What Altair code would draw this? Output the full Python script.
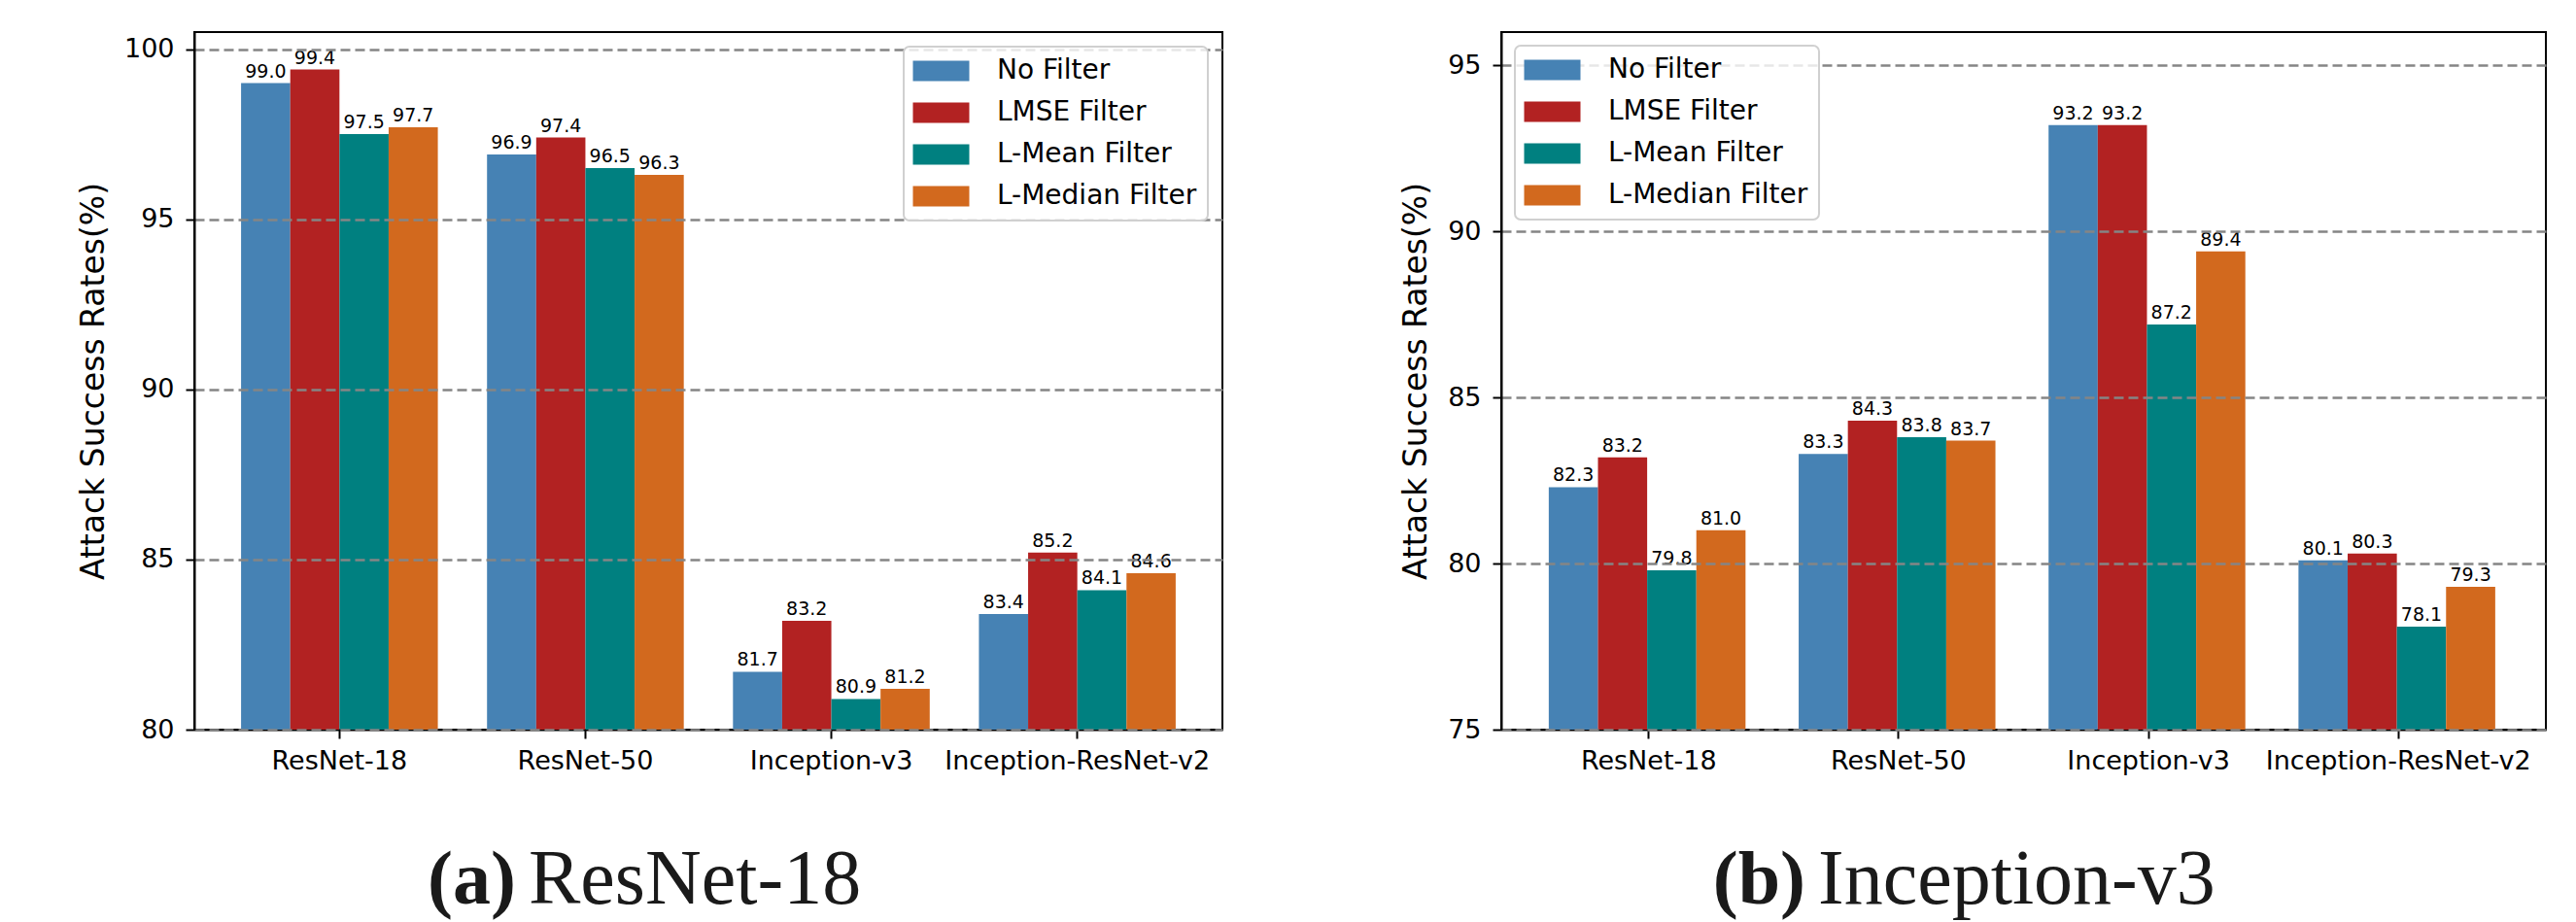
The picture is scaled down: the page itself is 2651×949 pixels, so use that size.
import altair as alt
import pandas as pd

models = ["ResNet-18", "ResNet-50", "Inception-v3", "Inception-ResNet-v2"]
filters = ["No Filter", "LMSE Filter", "L-Mean Filter", "L-Median Filter"]
colors = ["#4682B4", "#B22222", "#008080", "#D2691E"]

# panel (a) ResNet-18
a_no = [99.0, 96.9, 81.7, 83.4]
a_lmse = [99.4, 97.4, 83.2, 85.2]
a_mean = [97.5, 96.5, 80.9, 84.1]
a_median = [97.7, 96.3, 81.2, 84.6]
a_ticks = [80, 85, 90, 95, 100]

# panel (b) Inception-v3
b_no = [82.3, 83.3, 93.2, 80.1]
b_lmse = [83.2, 84.3, 93.2, 80.3]
b_mean = [79.8, 83.8, 87.2, 78.1]
b_median = [81.0, 83.7, 89.4, 79.3]
b_ticks = [75, 80, 85, 90, 95]

y_title = "Attack Success Rates(%)"
FONT = "DejaVu Sans"
SERIF = "Liberation Serif"
H = 718
CAP_Y = 897


def panel(series, ymin, ymax, ticks, width, legend_orient, legend_offset, extent,
          cap_bold, cap_text, cap_split_x):
    rows = []
    for f, vals in zip(filters, series):
        for m, v in zip(models, vals):
            rows.append({"model": m, "filter": f, "value": v})
    df = pd.DataFrame(rows)

    x = alt.X("model:N", sort=models, title=None,
              scale=alt.Scale(paddingInner=0.2, paddingOuter=0.19),
              axis=alt.Axis(labelAngle=0, labelFontSize=27, labelFont=FONT, labelColor="black",
                            tickColor="black", tickSize=9, tickWidth=2, labelPadding=10,
                            domainColor="black", domainWidth=2, grid=False, labelLimit=400))
    xo = alt.XOffset("filter:N", sort=filters, scale=alt.Scale(paddingInner=0, paddingOuter=0))
    y = alt.Y("value:Q",
              scale=alt.Scale(domain=[ymin, ymax], nice=False, zero=False),
              axis=alt.Axis(values=ticks, title=y_title, format="d",
                            labelFontSize=27, labelFont=FONT, labelColor="black", labelPadding=12,
                            tickColor="black", tickSize=9, tickWidth=2,
                            domainColor="black", domainWidth=2,
                            grid=True, gridDash=[10, 5], gridColor="#858585", gridWidth=2.5,
                            zindex=1, minExtent=extent, maxExtent=extent, titlePadding=4,
                            titleFontSize=33, titleFont=FONT, titleFontWeight="normal",
                            titleColor="black"))
    color = alt.Color("filter:N", sort=filters,
                      scale=alt.Scale(domain=filters, range=colors),
                      legend=alt.Legend(title=None, orient=legend_orient, offset=legend_offset,
                                        labelFontSize=28, labelFont=FONT, labelColor="black",
                                        symbolType="M-2.762,-1H2.762V1H-2.762Z", symbolSize=441,
                                        symbolOffset=13.5, labelOffset=43.5, rowPadding=15,
                                        symbolStrokeWidth=0, symbolOpacity=1, zindex=2,
                                        labelLimit=400, padding=11, strokeColor="#d0d0d0",
                                        cornerRadius=6, fillColor="rgba(255,255,255,0.8)"))

    bars = alt.Chart(df).mark_bar(stroke=None).encode(
        x=x, xOffset=xo, y=y, y2=alt.datum(ymin), color=color)
    labels = alt.Chart(df).mark_text(baseline="alphabetic", dy=-6, fontSize=19, font=FONT,
                                     color="black").encode(
        x=alt.X("model:N", sort=models),
        xOffset=alt.XOffset("filter:N", sort=filters),
        y=alt.Y("value:Q"),
        text=alt.Text("value:Q", format=".1f"))
    cap1 = alt.Chart(pd.DataFrame({"t": [cap_bold]})).mark_text(
        align="right", baseline="alphabetic", font=SERIF, fontSize=78, fontWeight="bold",
        color="#1a1a1a").encode(text="t:N", x=alt.value(cap_split_x), y=alt.value(CAP_Y))
    cap2 = alt.Chart(pd.DataFrame({"t": [cap_text]})).mark_text(
        align="left", baseline="alphabetic", font=SERIF, fontSize=80, fontWeight="normal",
        color="#1a1a1a").encode(text="t:N", x=alt.value(cap_split_x + 13), y=alt.value(CAP_Y))
    return alt.layer(bars, labels, cap1, cap2).properties(width=width, height=H)


left = panel([a_no, a_lmse, a_mean, a_median], 80, 100.5, a_ticks, 1058,
             "top-right", 15, 83, "(a)", "ResNet-18", 331)
right = panel([b_no, b_lmse, b_mean, b_median], 75, 96, b_ticks, 1075,
              "top-left", 14, 67, "(b)", "Inception-v3", 313)

chart = alt.hconcat(left, right, spacing=181).properties(
    padding={"left": 71, "top": 24, "right": 5, "bottom": 0},
    background="white"
).configure_view(stroke="black", strokeWidth=2).configure_legend(
    strokeWidth=2
)

chart.save("out.html", embed_options={"renderer": "svg", "actions": False})
